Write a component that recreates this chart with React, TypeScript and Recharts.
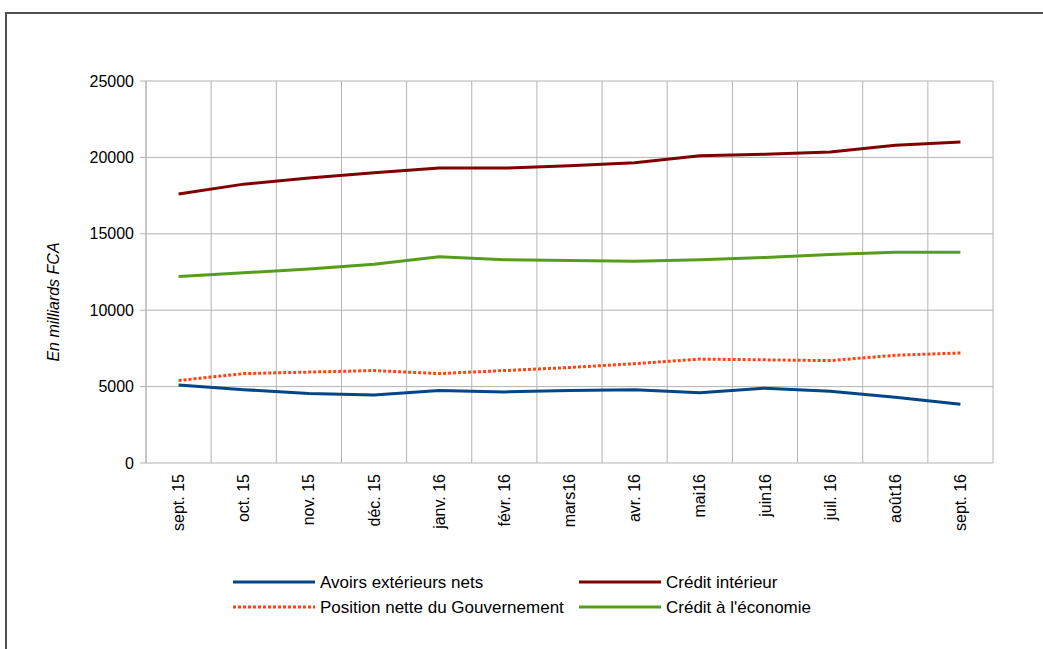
import { LineChart, Line, XAxis, YAxis, CartesianGrid, Legend } from "recharts";

const months = [
  "sept. 15", "oct. 15", "nov. 15", "déc. 15", "janv. 16", "févr. 16", "mars16",
  "avr. 16", "mai16", "juin16", "juil. 16", "août16", "sept. 16",
];
const avoirs = [5100, 4800, 4550, 4450, 4750, 4650, 4750, 4800, 4600, 4900, 4700, 4300, 3850];
const creditInterieur = [17600, 18250, 18650, 19000, 19300, 19300, 19450, 19650, 20100, 20200, 20350, 20800, 21000];
const positionGouv = [5400, 5850, 5950, 6050, 5850, 6050, 6250, 6500, 6800, 6750, 6700, 7050, 7200];
const creditEconomie = [12200, 12450, 12700, 13000, 13500, 13300, 13250, 13200, 13300, 13450, 13650, 13800, 13800];
const yTicks = [0, 5000, 10000, 15000, 20000, 25000];

const data = months.map((m, i) => ({
  month: m,
  avoirs: avoirs[i],
  creditInterieur: creditInterieur[i],
  positionGouv: positionGouv[i],
  creditEconomie: creditEconomie[i],
}));

// category boundaries, for the grid and the tick marks
const boundaries = Array.from({ length: months.length + 1 }, (_, i) => i);

const W = 1043;
const H = 649;
const margin = { top: 81, right: 50, bottom: 116, left: 6 };
const yAxisWidth = 140;
const plotWidth = W - margin.left - margin.right - yAxisWidth;
const halfStep = plotWidth / months.length / 2;

const GRID = "#b3b3b3";
const FONT = "'Liberation Sans', Arial, sans-serif";

const series = [
  { key: "avoirs", name: "Avoirs extérieurs nets", color: "#004586", dash: undefined },
  { key: "creditInterieur", name: "Crédit intérieur", color: "#800000", dash: undefined },
  { key: "positionGouv", name: "Position nette du Gouvernement", color: "#ff420e", dash: "3 2" },
  { key: "creditEconomie", name: "Crédit à l'économie", color: "#579d1c", dash: undefined },
];

function MonthTick({ x, y, payload }: any) {
  return (
    <g transform={`translate(${x},${y})`}>
      <text transform="rotate(-90)" x={-11} dy="0.35em" textAnchor="end" fontSize={16} fill="#000" fontFamily={FONT}>
        {payload.value}
      </text>
    </g>
  );
}

function EmptyTick() {
  return <g />;
}

function AxisTitle({ viewBox }: any) {
  const x = viewBox.x + 47;
  const y = viewBox.y + viewBox.height / 2 + 30;
  return (
    <text
      x={x}
      y={y}
      dy="0.35em"
      transform={`rotate(-90, ${x}, ${y})`}
      textAnchor="middle"
      fontSize={16}
      fontStyle="italic"
      fill="#000"
      fontFamily={FONT}
    >
      En milliards FCA
    </text>
  );
}

function LegendBox() {
  return (
    <svg width={W} height={56}>
      {series.map((s, i) => {
        const col = i % 2;
        const row = Math.floor(i / 2);
        const x0 = 233 + col * 346;
        const cy = 12 + row * 25;
        return (
          <g key={s.key}>
            <line x1={x0} x2={x0 + 82} y1={cy} y2={cy} stroke={s.color} strokeWidth={3} strokeDasharray={s.dash} />
            <text x={x0 + 87} y={cy} dy="0.35em" fontSize={17} fill="#000" fontFamily={FONT}>
              {s.name}
            </text>
          </g>
        );
      })}
    </svg>
  );
}

export default function App() {
  return (
    <div
      style={{
        position: "absolute",
        left: 0,
        top: 0,
        width: W,
        height: H,
        overflow: "hidden",
        background: "#fff",
        fontFamily: FONT,
      }}
    >
      <div
        style={{
          position: "absolute",
          left: 5,
          top: 12,
          width: W + 40,
          height: H + 40,
          border: "2px solid #505050",
        }}
      />
      <LineChart width={W} height={H} data={data} margin={margin}>
        <CartesianGrid
          stroke={GRID}
          strokeWidth={1}
          verticalCoordinatesGenerator={({ offset }: any) =>
            boundaries.map((b) => offset.left + (b * offset.width) / months.length)
          }
        />
        <XAxis
          xAxisId="grid"
          type="number"
          domain={[0, months.length]}
          ticks={boundaries}
          tick={<EmptyTick />}
          tickSize={6}
          tickLine={{ stroke: GRID }}
          axisLine={{ stroke: GRID, strokeWidth: 1.5 }}
          height={0}
        />
        <XAxis
          dataKey="month"
          interval={0}
          padding={{ left: halfStep, right: halfStep }}
          tick={<MonthTick />}
          tickLine={false}
          axisLine={false}
          tickSize={0}
          tickMargin={0}
          height={70}
        />
        <YAxis
          domain={[0, 25000]}
          ticks={yTicks}
          width={yAxisWidth}
          tickSize={6}
          tickMargin={6}
          tick={{ fontSize: 16, fill: "#000", fontFamily: FONT }}
          tickLine={{ stroke: GRID }}
          axisLine={{ stroke: GRID }}
          label={<AxisTitle />}
        />
        {series.map((s) => (
          <Line
            key={s.key}
            type="linear"
            dataKey={s.key}
            name={s.name}
            stroke={s.color}
            strokeWidth={3}
            strokeDasharray={s.dash}
            dot={false}
            activeDot={false}
            isAnimationActive={false}
          />
        ))}
        <Legend
          layout="horizontal"
          verticalAlign="middle"
          align="center"
          content={<LegendBox />}
          wrapperStyle={{ left: 0, top: 570, width: W, height: 56 }}
        />
      </LineChart>
    </div>
  );
}
